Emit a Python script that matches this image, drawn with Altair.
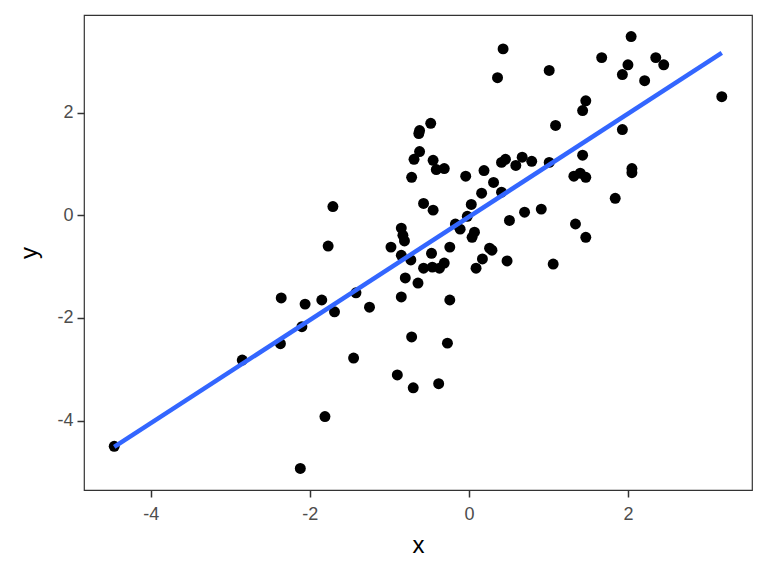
import pandas as pd
import altair as alt

# scatter values
xs = [-4.46, -2.85, -2.36, -2.37, -2.06, -2.10, -2.12, -1.85, -1.81, -1.77,
      -1.71, -1.69, -1.42, -1.45, -1.25, -0.98, -0.90, -0.85, -0.85, -0.85,
      -0.81, -0.80, -0.72, -0.73, -0.72, -0.70, -0.69, -0.64, -0.63, -0.62,
      -0.62, -0.57, -0.57, -0.48, -0.47, -0.46, -0.45, -0.45, -0.41, -0.38,
      -0.37, -0.31, -0.31, -0.27, -0.24, -0.24, -0.17, -0.11, -0.04, -0.02,
      0.03, 0.04, 0.07, 0.09, 0.16, 0.17, 0.19, 0.26, 0.29, 0.31,
      0.36, 0.41, 0.41, 0.43, 0.46, 0.48, 0.51, 0.59, 0.67, 0.70,
      0.79, 0.91, 1.01, 1.01, 1.09, 1.06, 1.32, 1.34, 1.40, 1.43,
      1.47, 1.43, 1.47, 1.47, 1.67, 1.84, 1.93, 1.93, 2.00, 2.04,
      2.05, 2.05, 2.21, 2.35, 2.45, 3.18, -0.83]
ys = [-4.50, -2.82, -1.61, -2.50, -1.73, -2.17, -4.93, -1.65, -3.92, -0.60,
      0.17, -1.88, -1.51, -2.78, -1.79, -0.62, -3.11, -1.59, -0.78, -0.25,
      -0.50, -1.22, -2.37, -0.87, 0.74, -3.36, 1.09, -1.32, 1.59, 1.65,
      1.24, 0.23, -1.03, 1.79, -0.74, -1.01, 0.10, 1.07, 0.89, -3.28,
      -1.03, 0.91, -0.93, -2.49, -1.65, -0.62, -0.17, -0.27, 0.76, -0.02,
      0.21, -0.43, -0.33, -1.03, 0.43, -0.85, 0.87, -0.64, -0.68, 0.64,
      2.68, 1.03, 0.45, 3.24, 1.09, -0.89, -0.10, 0.97, 1.13, 0.06,
      1.05, 0.12, 1.03, 2.82, 1.75, -0.95, 0.76, -0.17, 0.82, 2.04,
      2.23, 1.17, 0.74, -0.43, 3.07, 0.33, 1.67, 2.74, 2.93, 3.48,
      0.91, 0.83, 2.62, 3.07, 2.93, 2.31, -0.39]

x_ticks = [-4, -2, 0, 2]
y_ticks = [-4, -2, 0, 2]

df = pd.DataFrame({"x": xs, "y": ys})

xscale = alt.Scale(domain=[-4.84, 3.56], nice=False, zero=False)
yscale = alt.Scale(domain=[-5.35, 3.90], nice=False, zero=False)

# plain hyphen for negatives, like the original
label_expr = "datum.value < 0 ? '-' + abs(datum.value) : '' + datum.value"

base = alt.Chart(df)

points = base.mark_circle(size=120, color="black", opacity=1).encode(
    x=alt.X("x:Q", scale=xscale,
            axis=alt.Axis(values=x_ticks, title="x", labelExpr=label_expr)),
    y=alt.Y("y:Q", scale=yscale,
            axis=alt.Axis(values=y_ticks, title="y", labelExpr=label_expr)),
)

# least-squares fit line
fit = base.transform_regression("x", "y").mark_line(
    color="#3366FF", strokeWidth=4.5
).encode(x=alt.X("x:Q", scale=xscale), y=alt.Y("y:Q", scale=yscale))

chart = (points + fit).properties(
    width=668,
    height=475,
    autosize="none",
    padding={"left": 76, "top": 7, "right": 8, "bottom": 78},
).configure_view(
    stroke="#333333", strokeWidth=1.2
).configure_axis(
    grid=False,
    domain=False,
    ticks=True,
    tickColor="#333333",
    tickSize=7,
    tickWidth=1.5,
    labelColor="#4d4d4d",
    labelFont="Liberation Sans",
    labelFontSize=18,
    titleFont="Liberation Sans",
    titleFontSize=24,
    titleFontWeight="normal",
    titleColor="black",
).configure_axisX(
    labelPadding=8,
    titlePadding=10,
).configure_axisY(
    labelPadding=4,
    titlePadding=15,
)

chart.save("out.html", embed_options={"renderer": "svg", "actions": False})
